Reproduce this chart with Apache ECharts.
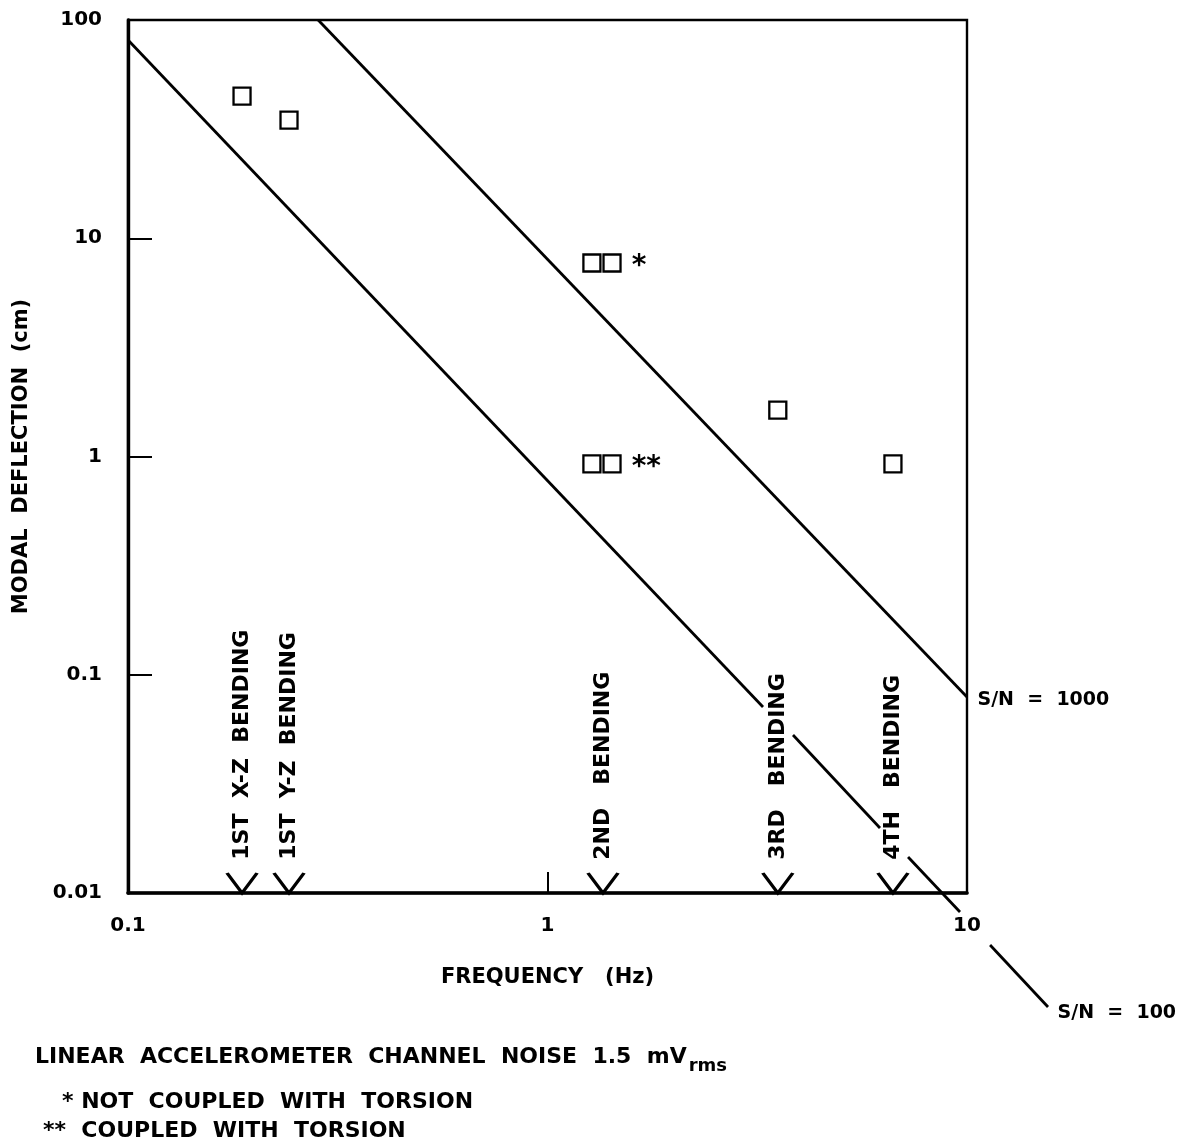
<!DOCTYPE html>
<html><head><meta charset="utf-8">
<script src="https://cdn.jsdelivr.net/npm/echarts@6/dist/echarts.min.js"></script>
<style>html,body{margin:0;padding:0;background:#fff}#c{width:1186px;height:1142px}</style>
</head><body><div id="c"></div>
<script>
// ---- data ----
const xTickValues = [0.1, 1, 10];
const yTickValues = [0.01, 0.1, 1, 10, 100];

const pointFreqs       = [0.187, 0.242, 1.276, 1.425, 1.276, 1.425, 3.54, 6.66];
const pointDeflections = [44.8, 34.8, 7.7, 7.7, 0.925, 0.925, 1.63, 0.925];
const pointNotes       = ['', '', '', '*', '', '**', '', ''];

const modeFreqs = [0.187, 0.242, 1.356, 3.54, 6.66];
const modeNames = ['1ST  X-Z  BENDING', '1ST  Y-Z  BENDING', '2ND   BENDING', '3RD   BENDING', '4TH   BENDING'];

const sn1000Freqs = [0.284, 10];
const sn1000Defl  = [100, 0.079];
const sn1000Name  = 'S/N  =  1000';

// S/N = 100 line, drawn in pieces (gaps around the labels)
const sn100SegFreqs = [[0.1, 3.264], [3.848, 6.203], [7.236, 9.623], [11.35, 15.6]];
const sn100SegDefl  = [[81.0, 0.0711], [0.0530, 0.01985], [0.01462, 0.00818], [0.00578, 0.003004]];
const sn100Name     = 'S/N  =  100';

const xAxisName = 'FREQUENCY   (Hz)';
const yAxisName = 'MODAL  DEFLECTION  (cm)';
const noteLine1 = 'LINEAR  ACCELEROMETER  CHANNEL  NOISE  1.5  mV';
const noteLine1Sub = 'rms';
const noteLine2 = '* NOT  COUPLED  WITH  TORSION';
const noteLine3 = '**  COUPLED  WITH  TORSION';

// ---- chart ----
const FONT = 'DejaVu Sans';
const chart = echarts.init(document.getElementById('c'), null, {renderer: 'canvas'});
const txt = (size) => ({color: '#000', fontFamily: FONT, fontWeight: 'bold', fontSize: size});
const series = [];

// S/N lines as straight segments (log-log)
const segData = [[sn1000Freqs[0], sn1000Defl[0], sn1000Freqs[1], sn1000Defl[1]]];
sn100SegFreqs.forEach((seg, k) => segData.push([seg[0], sn100SegDefl[k][0], seg[1], sn100SegDefl[k][1]]));
series.push({
  type: 'custom', clip: false, silent: true,
  encode: {x: [0, 2], y: [1, 3]},
  data: segData,
  renderItem: (params, api) => {
    const p1 = api.coord([api.value(0), api.value(1)]);
    const p2 = api.coord([api.value(2), api.value(3)]);
    return {type: 'line', shape: {x1: p1[0], y1: p1[1], x2: p2[0], y2: p2[1]},
            style: {stroke: '#000', lineWidth: 2.8, lineCap: 'butt'}};
  }
});

// S/N labels at the line ends
const lastSeg = sn100SegFreqs.length - 1;
series.push({
  type: 'scatter', clip: false, silent: true, symbolSize: 1,
  itemStyle: {color: 'rgba(0,0,0,0)', opacity: 1},
  data: [
    {value: [sn1000Freqs[sn1000Freqs.length - 1], sn1000Defl[sn1000Defl.length - 1]],
     label: Object.assign({show: true, formatter: sn1000Name, position: 'right', distance: 10, offset: [0, 3]}, txt(19))},
    {value: [sn100SegFreqs[lastSeg][1], sn100SegDefl[lastSeg][1]],
     label: Object.assign({show: true, formatter: sn100Name, position: 'right', distance: 9, offset: [0, 6]}, txt(19))}
  ]
});

series.push({
  type: 'scatter', clip: false, silent: true,
  symbol: 'rect', symbolSize: 17,
  itemStyle: {color: '#fff', borderColor: '#000', borderWidth: 2.3, opacity: 1},
  data: pointFreqs.map((f, i) => ({
    value: [f, pointDeflections[i]],
    label: Object.assign({
      show: pointNotes[i] !== '', formatter: pointNotes[i], position: 'right', distance: 10, offset: [0, 4]
    }, txt(28))
  }))
});

series.push({
  type: 'scatter', clip: false, silent: true,
  symbol: 'path://M0,0L15,20L30,0', symbolSize: [30, 20], symbolOffset: [0, -10],
  itemStyle: {color: 'rgba(0,0,0,0)', borderColor: '#000', borderWidth: 3, opacity: 1},
  data: modeFreqs.map((f, i) => ({
    value: [f, 0.01],
    label: Object.assign({
      show: true, formatter: modeNames[i], position: 'top', rotate: 90, distance: 12,
      align: 'left', verticalAlign: 'middle'
    }, txt(22))
  }))
});

const fmt = v => String(+(+v).toPrecision(3));

chart.setOption({
  animation: false,
  backgroundColor: '#fff',
  grid: {left: 128, top: 20, width: 839, height: 873, show: true, borderColor: '#000', borderWidth: 2.4, backgroundColor: 'transparent'},
  xAxis: {
    type: 'log', logBase: 10, min: xTickValues[0], max: xTickValues[xTickValues.length - 1],
    name: xAxisName, nameLocation: 'middle', nameGap: 74,
    nameTextStyle: txt(21),
    axisLine: {show: true, lineStyle: {color: '#000', width: 3.6}},
    axisTick: {show: true, inside: true, length: 21, lineStyle: {color: '#000', width: 2}},
    minorTick: {show: false}, splitLine: {show: false}, minorSplitLine: {show: false},
    axisLabel: Object.assign({margin: 23, formatter: fmt}, txt(20))
  },
  yAxis: {
    type: 'log', logBase: 10, min: yTickValues[0], max: yTickValues[yTickValues.length - 1],
    name: yAxisName, nameLocation: 'middle', nameGap: 96, nameRotate: 90,
    nameTextStyle: txt(21),
    axisLine: {show: true, lineStyle: {color: '#000', width: 3.4}},
    axisTick: {show: true, inside: true, length: 24, lineStyle: {color: '#000', width: 2}},
    minorTick: {show: false}, splitLine: {show: false}, minorSplitLine: {show: false},
    axisLabel: Object.assign({margin: 26, formatter: fmt}, txt(20))
  },
  graphic: [
    {type: 'text', left: 35, top: 1046, style: {
      text: '{a|' + noteLine1 + '}{b|' + noteLine1Sub + '}',
      rich: {
        a: {fontFamily: FONT, fontWeight: 'bold', fontSize: 22, lineHeight: 24, verticalAlign: 'top', fill: '#000'},
        b: {fontFamily: FONT, fontWeight: 'bold', fontSize: 18, lineHeight: 20, padding: [11, 0, 0, 2], verticalAlign: 'top', fill: '#000'}
      }
    }},
    {type: 'text', left: 62, top: 1091, style: {text: noteLine2, fontFamily: FONT, fontWeight: 'bold', fontSize: 22, fill: '#000'}},
    {type: 'text', left: 43, top: 1120, style: {text: noteLine3, fontFamily: FONT, fontWeight: 'bold', fontSize: 22, fill: '#000'}}
  ],
  series: series
});
</script></body></html>
